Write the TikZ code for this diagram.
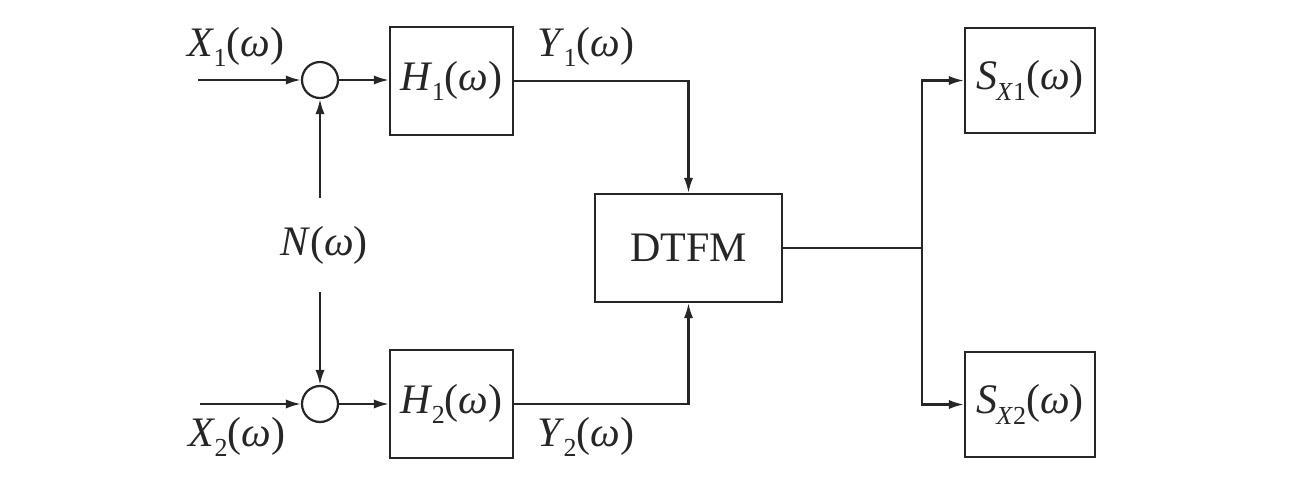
\documentclass[tikz,border=0pt]{standalone}
\usepackage{fontspec}
\setmainfont{Liberation Serif}
\usetikzlibrary{arrows.meta,positioning}
\definecolor{ink}{HTML}{262626}
\tikzset{
  every node/.style={font=\fontsize{21}{24}\selectfont, text=ink},
  blk/.style={draw=ink, line width=1.1pt, align=center, inner sep=0pt},
  hblk/.style={blk, minimum width=61.5pt, minimum height=54pt},
  sblk/.style={blk, minimum width=65pt, minimum height=52.5pt},
  sumnode/.style={draw=ink, line width=1.1pt, circle, minimum size=18pt, inner sep=0pt},
  arr/.style={-{Latex[length=7.5pt, width=4.6pt]}, line width=1.1pt, draw=ink},
  ln/.style={line width=1.1pt, draw=ink},
  lbl/.style={inner sep=0pt},
}
\newcommand{\sig}[2]{\textit{#1}\kern-0.5pt\raisebox{-0.55ex}{\fontsize{13}{13}\selectfont #2}(\textit{ω})}

\begin{document}
\begin{tikzpicture}[x=0.5pt, y=-0.5pt]
\useasboundingbox (0,0) rectangle (1295,487);

% --- inputs and noise ---
\coordinate (X1in) at (198,80);
\coordinate (X2in) at (200,404);
\node[sumnode] (sum1) at (320,80) {};
\node[sumnode] (sum2) at (320,404) {};
\node[lbl] (X1) at (236,47) {\sig{X}{1}};
\node[lbl] (X2) at (237,437) {\sig{X}{2}};
\node[lbl, inner ysep=14pt] (N) at (324,245) {\textit{N}(\textit{ω})};

% --- filters ---
\node[hblk] (H1) at (451.5,81) {\sig{H}{1}};
\node[hblk] (H2) at (451.5,404) {\sig{H}{2}};
\node[lbl] (Y1) at (586,47) {\sig{Y}{1}};
\node[lbl] (Y2) at (586,437) {\sig{Y}{2}};

% --- fusion and outputs ---
\node[blk, minimum width=93.5pt, minimum height=54pt] (dtfm) at (688.5,248) {DTFM};
\coordinate (br) at (922,248);
\node[sblk] (S1) at (1030,80.5) {\sig{S}{\textit{X}1}};
\node[sblk] (S2) at (1030,404.5) {\sig{S}{\textit{X}2}};

\draw[arr] (X1in) -- (sum1);
\draw[arr] (X2in) -- (sum2);
\draw[arr] (sum1 |- N.north) -- (sum1);
\draw[arr] (sum2 |- N.south) -- (sum2);
\draw[arr] (sum1) -- (sum1 -| H1.west);
\draw[arr] (sum2) -- (sum2 -| H2.west);
\draw[arr] (H1.east) -| (dtfm.north);
\draw[arr] (H2.east) -| (dtfm.south);
\draw[ln] (dtfm.east) -- (br);
\draw[arr] (br) |- (S1.west);
\draw[arr] (br) |- (S2.west);

\end{tikzpicture}
\end{document}
